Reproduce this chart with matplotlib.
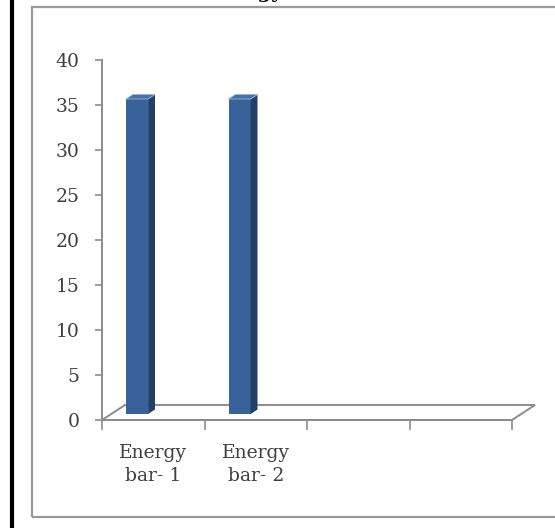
import matplotlib
matplotlib.use("Agg")
import matplotlib.pyplot as plt
from matplotlib.patches import Polygon, Rectangle
from matplotlib.transforms import IdentityTransform, ScaledTranslation
from matplotlib.lines import Line2D
import numpy as np

# Data
categories = ["Energy\nbar- 1", "Energy\nbar- 2", "", ""]
values = [35, 35, 0, 0]
y_ticks = [0, 5, 10, 15, 20, 25, 30, 35, 40]
title = "Energy"

W, H, DPI = 555, 528, 100
fig = plt.figure(figsize=(W / DPI, H / DPI), dpi=DPI)
fig.patch.set_facecolor("white")

font = "DejaVu Serif"
text_color = "#3f3f3f"
axis_color = "#8c8c8c"

# plot area in pixel units (front plane of the 3-D box)
left_px, right_px, top_px, bottom_px = 102, 512, 60, 420
ax = fig.add_axes([left_px / W, (H - bottom_px) / H,
                   (right_px - left_px) / W, (bottom_px - top_px) / H])
ax.set_xlim(0, len(categories))
ax.set_ylim(0, 40)
ax.patch.set_visible(False)
for s in ["top", "right", "bottom"]:
    ax.spines[s].set_visible(False)
ax.spines["left"].set_color(axis_color)
ax.spines["left"].set_linewidth(1.4)

ax.set_yticks(y_ticks)
ax.set_yticklabels([str(v) for v in y_ticks], fontfamily=font, fontsize=13.5,
                   color=text_color)
ax.tick_params(axis="y", length=5, width=1.2, color=axis_color, pad=11)

ax.set_xticks(np.arange(len(categories) + 1))
ax.set_xticklabels([])
ax.tick_params(axis="x", which="major", length=7, width=1.2, color=axis_color)
ax.set_xticks(np.arange(len(categories)) + 0.5, minor=True)
ax.set_xticklabels(categories, minor=True, fontfamily=font, fontsize=13.5,
                   color=text_color, linespacing=1.35)
ax.tick_params(axis="x", which="minor", length=0, pad=17)

# depth of the floor in pixels (right, up)
depth = np.array([23.0, 15.0])


def disp(x, y, frac=0.0):
    p = ax.transData.transform((x, y))
    return p + depth * frac


# floor outline
n = len(categories)
floor = [disp(0, 0), disp(n, 0), disp(n, 0, 1), disp(0, 0, 1)]
ax.add_patch(Polygon(floor, closed=True, facecolor="none",
                     edgecolor=axis_color, linewidth=1.4,
                     transform=IdentityTransform(), clip_on=False))
# front floor edge
ax.add_line(Line2D([0, n], [0, 0], color=axis_color, linewidth=1.4,
                   clip_on=False))

# 3-D columns
front_frac, back_frac = 0.40, 0.70
bar_left = 0.145
bar_w = 0.215
front_c, side_c, top_c = "#386299", "#233f66", "#4570ab"
for i, v in enumerate(values):
    if v <= 0:
        continue
    x0, x1 = i + bar_left, i + bar_left + bar_w
    off = ScaledTranslation(depth[0] * front_frac / DPI,
                            depth[1] * front_frac / DPI, fig.dpi_scale_trans)
    ax.bar(x0, v, width=bar_w, align="edge", color=front_c,
           transform=ax.transData + off, clip_on=False, zorder=3)
    side = [disp(x1, 0, front_frac), disp(x1, v, front_frac),
            disp(x1, v, back_frac), disp(x1, 0, back_frac)]
    ax.add_patch(Polygon(side, closed=True, facecolor=side_c, edgecolor="none",
                         transform=IdentityTransform(), clip_on=False, zorder=3))
    top = [disp(x0, v, front_frac), disp(x1, v, front_frac),
           disp(x1, v, back_frac), disp(x0, v, back_frac)]
    ax.add_patch(Polygon(top, closed=True, facecolor=top_c,
                         edgecolor="#9fb4d6", linewidth=0.6,
                         transform=IdentityTransform(), clip_on=False, zorder=3))

# chart frame and page border
fig.patches.append(Rectangle((32 / W, (H - 517) / H), (W + 10 - 32) / W,
                             (517 - 7) / H, transform=fig.transFigure,
                             facecolor="none", edgecolor="#9a9a9a",
                             linewidth=1.6, clip_on=False))
fig.add_artist(Line2D([12 / W, 12 / W], [0, 1], transform=fig.transFigure,
                      color="black", linewidth=3.0))

# chart title, mostly above the visible area
fig.text(283 / W, (H + 2) / H, title, ha="right", va="baseline",
         fontfamily=font, fontsize=14, fontweight="bold", color="black")

fig.savefig("out.png", dpi=DPI)
